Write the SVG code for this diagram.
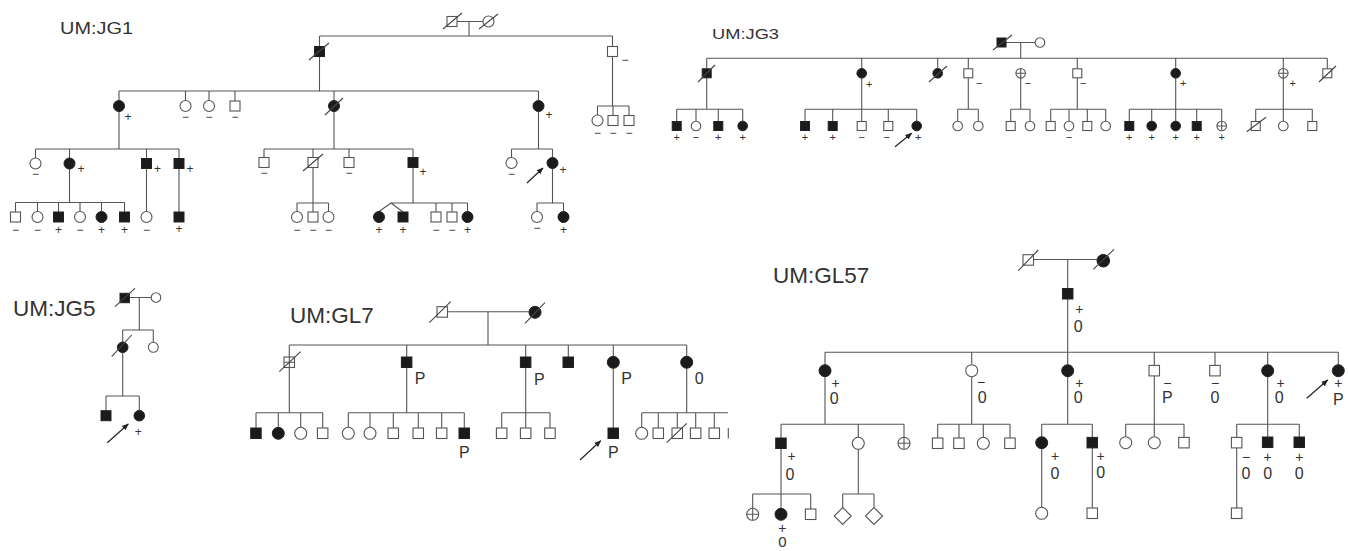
<svg xmlns="http://www.w3.org/2000/svg" width="1348" height="551" viewBox="0 0 1348 551">
<style>
.c{stroke:#555;stroke-width:1.1;fill:none}
.u{fill:#fff;stroke:#555;stroke-width:1.1}
.a{fill:#1b1b1b;stroke:#222;stroke-width:1}
.d{stroke:#444;stroke-width:1.1}
.t{font-family:"Liberation Sans",Arial,sans-serif;fill:#333;text-anchor:middle}
.k{font-size:12px}
.j{font-size:11px}
.g{font-size:14px}
.h{font-size:16px}
.lb{font-family:"Liberation Sans",Arial,sans-serif;fill:#333}
.ar{stroke:#222;stroke-width:1.2;fill:none}
</style>
<defs>
<marker id="ah" viewBox="0 0 10 10" refX="9" refY="5" markerWidth="7" markerHeight="7" orient="auto" markerUnits="userSpaceOnUse"><path d="M0,1 L10,5 L0,9 z" fill="#222"/></marker>
</defs>
<rect width="1348" height="551" fill="#fff"/>

<g id="labels">
<text class="lb" x="60" y="34" font-size="16" textLength="73" lengthAdjust="spacingAndGlyphs">UM:JG1</text>
<text class="lb" x="712" y="38.5" font-size="14.5" textLength="67" lengthAdjust="spacingAndGlyphs">UM:JG3</text>
<text class="lb" x="13" y="316" font-size="22.5">UM:JG5</text>
<text class="lb" x="290" y="323" font-size="22.5">UM:GL7</text>
<text class="lb" x="773" y="283" font-size="22.5">UM:GL57</text>
</g>

<g id="connectors">
<!-- JG1 -->
<path class="c" d="M457 21.5H483M469 21.5V36M319.5 36H612.5M319.5 36V46.5M612.5 36V46.5M612.5 56.5V106M597.5 106H629M597.5 106V115M613 106V115.5M629 106V115.5"/>
<path class="c" d="M319.5 56.5V91M119 91H538.5M119 91V100.5M185.5 91V100.5M209 91V100.5M235 91V101M334 91V100.5M538.5 91V100.5"/>
<path class="c" d="M119 111.5V149M35.5 149H179M35.5 149V158M69.5 149V158M146.5 149V158.5M179 149V158.5"/>
<path class="c" d="M69.5 169V202.5M15.5 202.5H124.5M15.5 202.5V212M37.5 202.5V211.5M58.5 202.5V212M80 202.5V211.5M101.5 202.5V211.5M124.5 202.5V212M146.5 168.5V211.5M179 168.5V212"/>
<path class="c" d="M334 111.5V149M264 149H413M264 149V157.5M313 149V157.5M349 149V157.5M413 149V157.5"/>
<path class="c" d="M313 167.5V212M297 203H328.5M297 203V211.5M328.5 203V211.5"/>
<path class="c" d="M413 167.5V203M391 203H467.5M379 211.5L391 203L403 212M436 203V212M452 203V212M467.5 203V211.5"/>
<path class="c" d="M538.5 111.5V149M511.5 149H552.5M511.5 149V157.5M552.5 149V157.5M552.5 168.5V203M537 203H563.5M537 203V211.5M563.5 203V211.5"/>
<!-- JG3 -->
<path class="c" d="M1006 42.5H1035.2M1020.7 42.5V58.3M706.7 58.3H1327.3M706.7 58.3V68.8M861.7 58.3V68.5M937.7 58.3V68.5M968.3 58.3V68.8M1077.3 58.3V68.8M1175.7 58.3V68.5M1283.3 58.3V68.5M1327.3 58.3V68.8"/>
<path class="c" d="M706.7 77.8V109.3M676.7 109.3H742.7M676.7 109.3V121.5M696 109.3V121.2M718.3 109.3V121.5M742.7 109.3V121.2"/>
<path class="c" d="M861.7 78.1V109.3M805 109.3H916.7M805 109.3V121.5M832.7 109.3V121.5M861.7 109.3V121.5M888.3 109.3V121.5M916.7 109.3V121.2"/>
<path class="c" d="M968.3 77.8V109.3M957.7 109.3H978.3M957.7 109.3V121.2M978.3 109.3V121.2"/>
<path class="c" d="M1020.7 78.1V109.3M1010.7 109.3H1030M1010.7 109.3V121.5M1030 109.3V121.2"/>
<path class="c" d="M1077.3 77.8V109.3M1050.7 109.3H1105.7M1050.7 109.3V121.5M1069 109.3V121.2M1087.3 109.3V121.5M1105.7 109.3V121.2"/>
<path class="c" d="M1175.7 78.1V109.3M1129.3 109.3H1221.7M1129.3 109.3V121.5M1151.7 109.3V121.2M1175.7 109.3V121.2M1196.7 109.3V121.5M1221.7 109.3V121.2"/>
<path class="c" d="M1283.3 78.1V109.3M1255.7 109.3H1312.3M1255.7 109.3V121.5M1283.3 109.3V121.2M1312.3 109.3V121.5"/>
<!-- JG5 -->
<path class="c" d="M129.4 297.5H151.2M139.3 297.5V330M122.7 330H153.3M122.7 330V342M153.3 330V342.3M122.7 352.6V396M106 396H139.3M106 396V410.7M139.3 396V410.4"/>
<!-- GL7 -->
<path class="c" d="M447.5 311.7H529M488 311.7V345M289.3 345H686.7M289.3 345V357M406.7 345V357M525.7 345V357M568.3 345V357M613.3 345V356.3M686.7 345V356.3"/>
<path class="c" d="M289.3 367.5V412.7M256 412.7H322.7M256 412.7V428M278.3 412.7V427.3M300.7 412.7V427.3M322.7 412.7V428"/>
<path class="c" d="M406.7 367.5V412.7M348.3 412.7H464.3M348.3 412.7V427.3M370 412.7V427.3M393.3 412.7V428M418.3 412.7V428M441.7 412.7V428M464.3 412.7V428"/>
<path class="c" d="M525.7 367.5V412.7M501.7 412.7H550M501.7 412.7V428M525.7 412.7V428M550 412.7V428"/>
<path class="c" d="M613.3 368.3V428"/>
<path class="c" d="M686.7 368.3V412.7M641.7 412.7H728M641.7 412.7V427.3M658.3 412.7V428M677.3 412.7V428M695.7 412.7V428M714.3 412.7V428"/>
<!-- GL57 -->
<path class="c" d="M1033.5 259.5H1097M1067.7 259.5V288.5M1067.7 299V352.3M825 352.3H1338.3M825 352.3V364.7M971.7 352.3V364.7M1067.7 352.3V364.7M1154.3 352.3V365.4M1215 352.3V365.4M1267.7 352.3V364.7M1338.3 352.3V364.7"/>
<path class="c" d="M825 376.7V424.3M781 424.3H904M781 424.3V438M858.3 424.3V437.3M904 424.3V437.3"/>
<path class="c" d="M971.7 376.7V424.3M937.7 424.3H1010M937.7 424.3V438M959 424.3V438M983.3 424.3V437.3M1010 424.3V438"/>
<path class="c" d="M1067.7 376.7V424.3M1041.7 424.3H1092.3M1041.7 424.3V436.7M1092.3 424.3V437.4"/>
<path class="c" d="M1154.3 375.9V424.3M1125.7 424.3H1184M1125.7 424.3V436.7M1154.3 424.3V436.7M1184 424.3V437.4"/>
<path class="c" d="M1267.7 376.7V424.3M1236.7 424.3H1299.3M1236.7 424.3V437.4M1267.7 424.3V437M1299.3 424.3V437"/>
<path class="c" d="M781 448.5V494M752.7 494H810.7M752.7 494V508.3M781 494V508.3M810.7 494V509"/>
<path class="c" d="M858.3 449.3V494M842.7 494H874M842.7 494V507.5M874 494V507.5"/>
<path class="c" d="M1041.7 448.7V507.3M1092.3 448V508M1236.7 448V508"/>
<!-- proband arrows -->
<path class="ar" d="M527 183L543 168" marker-end="url(#ah)"/>
<path class="ar" d="M895 146.7L911.7 133.3" marker-end="url(#ah)"/>
<path class="ar" d="M107.3 442.7L128.3 424" marker-end="url(#ah)"/>
<path class="ar" d="M580 460L600.7 440.7" marker-end="url(#ah)"/>
<path class="ar" d="M1306.7 398.3L1327.7 380" marker-end="url(#ah)"/>
</g>

<!-- ================= JG1 ================= -->
<g id="jg1-I1"><rect class="u" x="447" y="16.5" width="10" height="10"/><line class="d" x1="443" y1="29" x2="462" y2="13"/></g>
<g id="jg1-I2"><circle class="u" cx="488.5" cy="21.5" r="5.5"/><line class="d" x1="479" y1="29" x2="498" y2="14"/></g>
<g id="jg1-II1"><rect class="a" x="314.5" y="46.5" width="10" height="10"/><line class="d" x1="309" y1="60" x2="329" y2="43"/></g>
<g id="jg1-II2"><rect class="u" x="607.5" y="46.5" width="10" height="10"/><text class="t k" x="625" y="64.2">−</text></g>
<g id="jg1-III-a1"><circle class="u" cx="597.5" cy="120.5" r="5.5"/><text class="t k" x="597.5" y="137.2">−</text></g>
<g id="jg1-III-a2"><rect class="u" x="608" y="115.5" width="10" height="10"/><text class="t k" x="613" y="137.2">−</text></g>
<g id="jg1-III-a3"><rect class="u" x="624" y="115.5" width="10" height="10"/><text class="t k" x="629" y="137.2">−</text></g>
<g id="jg1-III1"><circle class="a" cx="119" cy="106" r="5.5"/><text class="t k" x="128" y="121.2">+</text></g>
<g id="jg1-III2"><circle class="u" cx="185.5" cy="106" r="5.5"/><text class="t k" x="185.5" y="121.2">−</text></g>
<g id="jg1-III3"><circle class="u" cx="209" cy="106" r="5.5"/><text class="t k" x="209" y="121.2">−</text></g>
<g id="jg1-III4"><rect class="u" x="230" y="101" width="10" height="10"/><text class="t k" x="235" y="121.2">−</text></g>
<g id="jg1-III5"><circle class="a" cx="334" cy="106" r="5.5"/><line class="d" x1="325" y1="115" x2="343" y2="98"/></g>
<g id="jg1-III6"><circle class="a" cx="538.5" cy="106" r="5.5"/><text class="t k" x="549" y="119.2">+</text></g>
<g id="jg1-IV1"><circle class="u" cx="35.5" cy="163.5" r="5.5"/><text class="t k" x="35.5" y="177.7">−</text></g>
<g id="jg1-IV2"><circle class="a" cx="69.5" cy="163.5" r="5.5"/><text class="t k" x="81" y="173.2">+</text></g>
<g id="jg1-IV3"><rect class="a" x="141.5" y="158.5" width="10" height="10"/><text class="t k" x="157.5" y="173.2">+</text></g>
<g id="jg1-IV4"><rect class="a" x="174" y="158.5" width="10" height="10"/><text class="t k" x="190" y="173.2">+</text></g>
<g id="jg1-IV5"><rect class="u" x="259" y="157.5" width="10" height="10"/><text class="t k" x="264" y="177.2">−</text></g>
<g id="jg1-IV6"><rect class="u" x="308" y="157.5" width="10" height="10"/><line class="d" x1="303" y1="171" x2="323" y2="154"/></g>
<g id="jg1-IV7"><rect class="u" x="344" y="157.5" width="10" height="10"/><text class="t k" x="349" y="177.2">−</text></g>
<g id="jg1-IV8"><rect class="a" x="408" y="157.5" width="10" height="10"/><text class="t k" x="423" y="176.2">+</text></g>
<g id="jg1-IV9"><circle class="u" cx="511.5" cy="163" r="5.5"/><text class="t k" x="511.5" y="178.2">−</text></g>
<g id="jg1-IV10"><circle class="a" cx="552.5" cy="163" r="5.5"/><text class="t k" x="563" y="174.2">+</text></g>
<g id="jg1-V1"><rect class="u" x="10.5" y="212" width="10" height="10"/><text class="t k" x="15.5" y="234.2">−</text></g>
<g id="jg1-V2"><circle class="u" cx="37.5" cy="217" r="5.5"/><text class="t k" x="37.5" y="234.2">−</text></g>
<g id="jg1-V3"><rect class="a" x="53.5" y="212" width="10" height="10"/><text class="t k" x="58.5" y="234.2">+</text></g>
<g id="jg1-V4"><circle class="u" cx="80" cy="217" r="5.5"/><text class="t k" x="80" y="234.2">−</text></g>
<g id="jg1-V5"><circle class="a" cx="101.5" cy="217" r="5.5"/><text class="t k" x="101.5" y="234.2">+</text></g>
<g id="jg1-V6"><rect class="a" x="119.5" y="212" width="10" height="10"/><text class="t k" x="124.5" y="234.2">+</text></g>
<g id="jg1-V7"><circle class="u" cx="146.5" cy="217" r="5.5"/><text class="t k" x="146.5" y="234.2">−</text></g>
<g id="jg1-V8"><rect class="a" x="174" y="212" width="10" height="10"/><text class="t k" x="179" y="233.2">+</text></g>
<g id="jg1-V9"><circle class="u" cx="297" cy="217" r="5.5"/><text class="t k" x="297" y="234.2">−</text></g>
<g id="jg1-V10"><rect class="u" x="308" y="212" width="10" height="10"/><text class="t k" x="313" y="234.2">−</text></g>
<g id="jg1-V11"><circle class="u" cx="328.5" cy="217" r="5.5"/><text class="t k" x="328.5" y="234.2">−</text></g>
<g id="jg1-V12"><circle class="a" cx="379" cy="217" r="5.5"/><text class="t k" x="379" y="234.2">+</text></g>
<g id="jg1-V13"><rect class="a" x="398" y="212" width="10" height="10"/><text class="t k" x="403" y="234.2">+</text></g>
<g id="jg1-V14"><rect class="u" x="431" y="212" width="10" height="10"/><text class="t k" x="436" y="234.2">−</text></g>
<g id="jg1-V15"><rect class="u" x="447" y="212" width="10" height="10"/><text class="t k" x="452" y="234.2">−</text></g>
<g id="jg1-V16"><circle class="a" cx="467.5" cy="217" r="5.5"/><text class="t k" x="467.5" y="234.2">+</text></g>
<g id="jg1-V17"><circle class="u" cx="537" cy="217" r="5.5"/><text class="t k" x="537" y="232.2">−</text></g>
<g id="jg1-V18"><circle class="a" cx="563.5" cy="217" r="5.5"/><text class="t k" x="563.5" y="234.2">+</text></g>

<!-- ================= JG3 ================= -->
<g id="jg3-I1"><rect class="a" x="997" y="38" width="9" height="9"/><line class="d" x1="993" y1="50" x2="1012" y2="35"/></g>
<g id="jg3-I2"><circle class="u" cx="1040" cy="42.5" r="4.8"/></g>
<g id="jg3-II1"><rect class="a" x="702.2" y="68.8" width="9" height="9"/><line class="d" x1="698" y1="82" x2="715" y2="65"/></g>
<g id="jg3-II2"><circle class="a" cx="861.7" cy="73.3" r="4.8"/><text class="t j" x="869.3" y="87.9">+</text></g>
<g id="jg3-II3"><circle class="a" cx="937.7" cy="73.3" r="4.8"/><line class="d" x1="929" y1="82" x2="947" y2="66"/></g>
<g id="jg3-II4"><rect class="u" x="963.8" y="68.8" width="9" height="9"/><text class="t j" x="979.3" y="86.6">−</text></g>
<g id="jg3-II5"><circle class="u" cx="1020.7" cy="73.3" r="4.8"/><path class="c" d="M1015.9 73.3H1025.5M1020.7 68.5V78.1"/><text class="t j" x="1028" y="86.6">−</text></g>
<g id="jg3-II6"><rect class="u" x="1072.8" y="68.8" width="9" height="9"/><text class="t j" x="1083.3" y="86.6">−</text></g>
<g id="jg3-II7"><circle class="a" cx="1175.7" cy="73.3" r="4.8"/><text class="t j" x="1183.3" y="87.2">+</text></g>
<g id="jg3-II8"><circle class="u" cx="1283.3" cy="73.3" r="4.8"/><path class="c" d="M1278.5 73.3H1288.1M1283.3 68.5V78.1"/><text class="t j" x="1292.7" y="87.2">+</text></g>
<g id="jg3-II9"><rect class="u" x="1322.8" y="68.8" width="9" height="9"/><line class="d" x1="1319" y1="82" x2="1336" y2="66"/></g>
<g id="jg3-III1"><rect class="a" x="672.2" y="121.5" width="9" height="9"/><text class="t j" x="676.7" y="141.2">+</text></g>
<g id="jg3-III2"><circle class="u" cx="696" cy="126" r="4.8"/><text class="t j" x="696" y="141.2">−</text></g>
<g id="jg3-III3"><rect class="a" x="713.8" y="121.5" width="9" height="9"/><text class="t j" x="718.3" y="141.2">+</text></g>
<g id="jg3-III4"><circle class="a" cx="742.7" cy="126" r="4.8"/><text class="t j" x="742.7" y="141.2">+</text></g>
<g id="jg3-III5"><rect class="a" x="800.5" y="121.5" width="9" height="9"/><text class="t j" x="805" y="141.2">+</text></g>
<g id="jg3-III6"><rect class="a" x="828.2" y="121.5" width="9" height="9"/><text class="t j" x="832.7" y="141.2">+</text></g>
<g id="jg3-III7"><rect class="u" x="857.2" y="121.5" width="9" height="9"/><text class="t j" x="861.7" y="141.2">−</text></g>
<g id="jg3-III8"><rect class="u" x="883.8" y="121.5" width="9" height="9"/><text class="t j" x="886.7" y="141.2">−</text></g>
<g id="jg3-III9"><circle class="a" cx="916.7" cy="126" r="4.8"/><text class="t j" x="918.3" y="141.2">+</text></g>
<g id="jg3-III10"><circle class="u" cx="957.7" cy="126" r="4.8"/></g>
<g id="jg3-III11"><circle class="u" cx="978.3" cy="126" r="4.8"/></g>
<g id="jg3-III12"><rect class="u" x="1006.2" y="121.5" width="9" height="9"/></g>
<g id="jg3-III13"><circle class="u" cx="1030" cy="126" r="4.8"/></g>
<g id="jg3-III14"><rect class="u" x="1046.2" y="121.5" width="9" height="9"/></g>
<g id="jg3-III15"><circle class="u" cx="1069" cy="126" r="4.8"/><text class="t j" x="1069" y="141">−</text></g>
<g id="jg3-III16"><rect class="u" x="1082.8" y="121.5" width="9" height="9"/></g>
<g id="jg3-III17"><circle class="u" cx="1105.7" cy="126" r="4.8"/></g>
<g id="jg3-III18"><rect class="a" x="1124.8" y="121.5" width="9" height="9"/><text class="t j" x="1129.3" y="141.2">+</text></g>
<g id="jg3-III19"><circle class="a" cx="1151.7" cy="126" r="4.8"/><text class="t j" x="1151.7" y="141.2">+</text></g>
<g id="jg3-III20"><circle class="a" cx="1175.7" cy="126" r="4.8"/><text class="t j" x="1175.7" y="141.2">+</text></g>
<g id="jg3-III21"><rect class="a" x="1192.2" y="121.5" width="9" height="9"/><text class="t j" x="1196.7" y="141.2">+</text></g>
<g id="jg3-III22"><circle class="u" cx="1221.7" cy="126" r="4.8"/><path class="c" d="M1216.9 126H1226.5M1221.7 121.2V130.8"/><text class="t j" x="1221.7" y="141.2">+</text></g>
<g id="jg3-III23"><rect class="u" x="1251.2" y="121.5" width="9" height="9"/><line class="d" x1="1246.7" y1="131.7" x2="1266" y2="117.3"/></g>
<g id="jg3-III24"><circle class="u" cx="1283.3" cy="126" r="4.8"/></g>
<g id="jg3-III25"><rect class="u" x="1307.8" y="121.5" width="9" height="9"/></g>

<!-- ================= JG5 ================= -->
<g id="jg5-I1"><rect class="a" x="120" y="293.3" width="9.4" height="9.4"/><line class="d" x1="115" y1="306.7" x2="135" y2="288.3"/></g>
<g id="jg5-I2"><circle class="u" cx="156" cy="297.5" r="4.8"/></g>
<g id="jg5-II1"><circle class="a" cx="122.7" cy="347.3" r="5.3"/><line class="d" x1="111.7" y1="356.7" x2="131.7" y2="335"/></g>
<g id="jg5-II2"><circle class="u" cx="153.3" cy="347.3" r="5"/></g>
<g id="jg5-III1"><rect class="a" x="101" y="410.7" width="10" height="10"/></g>
<g id="jg5-III2"><circle class="a" cx="139.3" cy="415.7" r="5.3"/><text class="t k" x="138.3" y="435.9">+</text></g>

<!-- ================= GL7 ================= -->
<g id="gl7-I1"><rect class="u" x="437" y="306.7" width="10.5" height="10.5"/><line class="d" x1="429.3" y1="322.7" x2="450.7" y2="301.7"/></g>
<g id="gl7-I2"><circle class="a" cx="535" cy="312.3" r="6"/><line class="d" x1="525" y1="323.3" x2="545" y2="302.7"/></g>
<g id="gl7-II1"><rect class="u" x="284" y="357" width="10.5" height="10.5"/><path class="c" d="M284 362.3H294.5M289.3 357V367.5"/><line class="d" x1="279.3" y1="371.7" x2="300.7" y2="351.7"/></g>
<g id="gl7-II2"><rect class="a" x="401.4" y="357" width="10.5" height="10.5"/><text class="t h" x="420" y="384.1">P</text></g>
<g id="gl7-II3"><rect class="a" x="520.4" y="357" width="10.5" height="10.5"/><text class="t h" x="539.3" y="385.1">P</text></g>
<g id="gl7-II4"><rect class="a" x="563" y="357" width="10.5" height="10.5"/></g>
<g id="gl7-II5"><circle class="a" cx="613.3" cy="362.3" r="6"/><text class="t h" x="626.7" y="384.1">P</text></g>
<g id="gl7-II6"><circle class="a" cx="686.7" cy="362.3" r="6"/><text class="t h" x="699.3" y="384.1">0</text></g>
<g id="gl7-III1"><rect class="a" x="250.7" y="428" width="10.5" height="10.5"/></g>
<g id="gl7-III2"><circle class="a" cx="278.3" cy="433.3" r="6"/></g>
<g id="gl7-III3"><circle class="u" cx="300.7" cy="433.3" r="6"/></g>
<g id="gl7-III4"><rect class="u" x="317.4" y="428" width="10.5" height="10.5"/></g>
<g id="gl7-III5"><circle class="u" cx="348.3" cy="433.3" r="6"/></g>
<g id="gl7-III6"><circle class="u" cx="370" cy="433.3" r="6"/></g>
<g id="gl7-III7"><rect class="u" x="388" y="428" width="10.5" height="10.5"/></g>
<g id="gl7-III8"><rect class="u" x="413" y="428" width="10.5" height="10.5"/></g>
<g id="gl7-III9"><rect class="u" x="436.4" y="428" width="10.5" height="10.5"/></g>
<g id="gl7-III10"><rect class="a" x="459" y="428" width="10.5" height="10.5"/><text class="t h" x="464.3" y="457.5">P</text></g>
<g id="gl7-III11"><rect class="u" x="496.4" y="428" width="10.5" height="10.5"/></g>
<g id="gl7-III12"><rect class="u" x="520.4" y="428" width="10.5" height="10.5"/></g>
<g id="gl7-III13"><rect class="u" x="544.7" y="428" width="10.5" height="10.5"/></g>
<g id="gl7-III14"><rect class="a" x="608" y="428" width="10.5" height="10.5"/><text class="t h" x="613.3" y="457.5">P</text></g>
<g id="gl7-III15"><circle class="u" cx="641.7" cy="433.3" r="6"/></g>
<g id="gl7-III16"><rect class="u" x="653" y="428" width="10.5" height="10.5"/></g>
<g id="gl7-III17"><rect class="u" x="672" y="428" width="10.5" height="10.5"/><line class="d" x1="666.7" y1="442.7" x2="686.7" y2="423.3"/></g>
<g id="gl7-III18"><rect class="u" x="690.4" y="428" width="10.5" height="10.5"/></g>
<g id="gl7-III19"><rect class="u" x="709" y="428" width="10.5" height="10.5"/></g>
<g id="gl7-III20"><line class="c" x1="728.3" y1="428" x2="728.3" y2="438.5"/></g>

<!-- ================= GL57 ================= -->
<g id="gl57-I1"><rect class="u" x="1023" y="254.7" width="10.5" height="10.5"/><line class="d" x1="1018.3" y1="270.7" x2="1038.3" y2="250"/></g>
<g id="gl57-I2"><circle class="a" cx="1103.3" cy="260.7" r="6.3"/><line class="d" x1="1093.3" y1="269.3" x2="1114" y2="249.3"/></g>
<g id="gl57-II1"><rect class="a" x="1062.45" y="288.5" width="10.5" height="10.5"/><text class="t g" x="1079.3" y="314.2">+</text><text class="t h" x="1078.3" y="331.8">0</text></g>
<g id="gl57-III1"><circle class="a" cx="825" cy="370.7" r="6"/><text class="t g" x="835.7" y="388.2">+</text><text class="t h" x="834.3" y="404">0</text></g>
<g id="gl57-III2"><circle class="u" cx="971.7" cy="370.7" r="6"/><text class="t g" x="981" y="386.6">−</text><text class="t h" x="982.3" y="403">0</text></g>
<g id="gl57-III3"><circle class="a" cx="1067.7" cy="370.7" r="6"/><text class="t g" x="1079.3" y="388.2">+</text><text class="t h" x="1078.3" y="403">0</text></g>
<g id="gl57-III4"><rect class="u" x="1149" y="365.4" width="10.5" height="10.5"/><text class="t g" x="1167.3" y="388.2">−</text><text class="t h" x="1167.3" y="403">P</text></g>
<g id="gl57-III5"><rect class="u" x="1209.7" y="365.4" width="10.5" height="10.5"/><text class="t g" x="1215" y="388.2">−</text><text class="t h" x="1215" y="403">0</text></g>
<g id="gl57-III6"><circle class="a" cx="1267.7" cy="370.7" r="6"/><text class="t g" x="1280.7" y="388.2">+</text><text class="t h" x="1279.3" y="403">0</text></g>
<g id="gl57-III7"><circle class="a" cx="1338.3" cy="370.7" r="6"/><text class="t g" x="1338.3" y="387.6">+</text><text class="t h" x="1338.3" y="405">P</text></g>
<g id="gl57-IV1"><rect class="a" x="775.7" y="438" width="10.5" height="10.5"/><text class="t g" x="791.7" y="460.9">+</text><text class="t h" x="790" y="479.8">0</text></g>
<g id="gl57-IV2"><circle class="u" cx="858.3" cy="443.3" r="6"/></g>
<g id="gl57-IV3"><circle class="u" cx="904" cy="443.3" r="6"/><path class="c" d="M898 443.3H910M904 437.3V449.3"/></g>
<g id="gl57-IV4"><rect class="u" x="932.4" y="438" width="10.5" height="10.5"/></g>
<g id="gl57-IV5"><rect class="u" x="953.7" y="438" width="10.5" height="10.5"/></g>
<g id="gl57-IV6"><circle class="u" cx="983.3" cy="443.3" r="6"/></g>
<g id="gl57-IV7"><rect class="u" x="1004.7" y="438" width="10.5" height="10.5"/></g>
<g id="gl57-IV8"><circle class="a" cx="1041.7" cy="442.7" r="6"/><text class="t g" x="1055" y="460.9">+</text><text class="t h" x="1055" y="478.5">0</text></g>
<g id="gl57-IV9"><rect class="a" x="1087" y="437.4" width="10.5" height="10.5"/><text class="t g" x="1100.7" y="460.9">+</text><text class="t h" x="1100.7" y="477.5">0</text></g>
<g id="gl57-IV10"><circle class="u" cx="1125.7" cy="442.7" r="6"/></g>
<g id="gl57-IV11"><circle class="u" cx="1154.3" cy="442.7" r="6"/></g>
<g id="gl57-IV12"><rect class="u" x="1178.7" y="437.4" width="10.5" height="10.5"/></g>
<g id="gl57-IV13"><rect class="u" x="1231.4" y="437.4" width="10.5" height="10.5"/><text class="t g" x="1246" y="462.2">−</text><text class="t h" x="1246" y="479.1">0</text></g>
<g id="gl57-IV14"><rect class="a" x="1262.4" y="437" width="10.5" height="10.5"/><text class="t g" x="1267.7" y="462.2">+</text><text class="t h" x="1267.7" y="479.1">0</text></g>
<g id="gl57-IV15"><rect class="a" x="1294" y="437" width="10.5" height="10.5"/><text class="t g" x="1299.3" y="462.2">+</text><text class="t h" x="1299.3" y="479.1">0</text></g>
<g id="gl57-V1"><circle class="u" cx="752.7" cy="514.3" r="6"/><path class="c" d="M746.7 514.3H758.7M752.7 508.3V520.3"/></g>
<g id="gl57-V2"><circle class="a" cx="781" cy="514.3" r="6"/><text class="t g" x="782.3" y="532.5">+</text><text class="t" x="782.3" y="547" font-size="15">0</text></g>
<g id="gl57-V3"><rect class="u" x="805.4" y="509" width="10.5" height="10.5"/></g>
<g id="gl57-V4"><polygon class="u" points="842.7,507.5 851.2,516 842.7,524.5 834.2,516"/></g>
<g id="gl57-V5"><polygon class="u" points="874,507.5 882.5,516 874,524.5 865.5,516"/></g>
<g id="gl57-V6"><circle class="u" cx="1041.7" cy="513.3" r="6"/></g>
<g id="gl57-V7"><rect class="u" x="1087" y="508" width="10.5" height="10.5"/></g>
<g id="gl57-V8"><rect class="u" x="1231.4" y="508" width="10.5" height="10.5"/></g>
</svg>
